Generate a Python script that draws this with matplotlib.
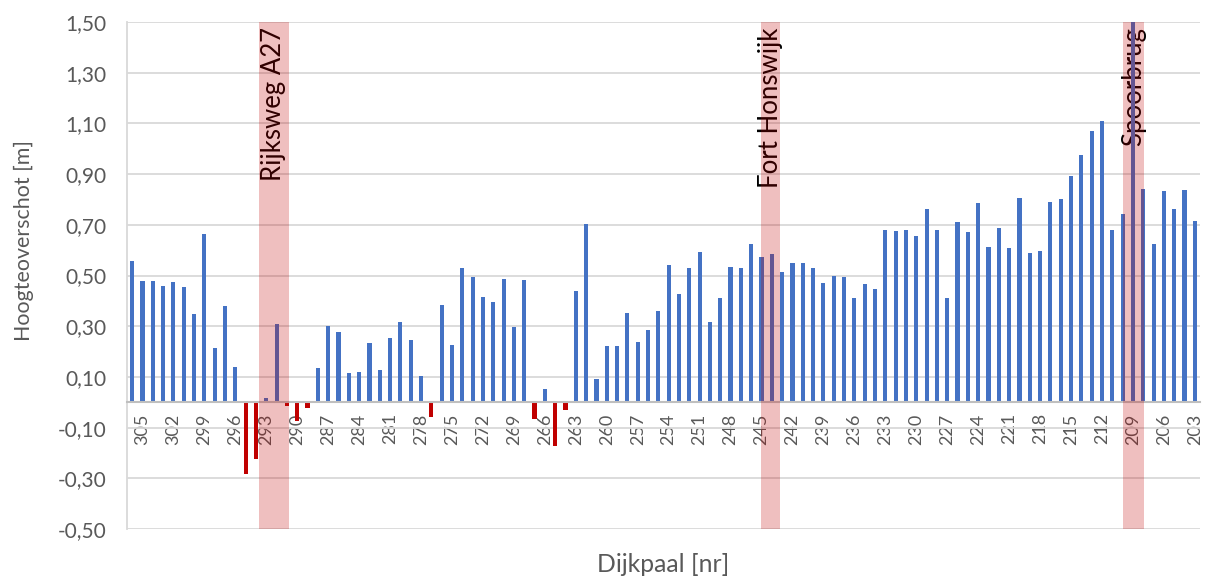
import matplotlib
matplotlib.use("Agg")
import matplotlib.pyplot as plt
import matplotlib.ticker as mticker
import numpy as np

# dijkpaal numbers, from 306 down to 203
DIJKPAAL = list(range(306, 202, -1))

HOOGTE = [
    0.559, 0.478, 0.478, 0.458, 0.474, 0.453, 0.347, 0.664, 0.214, 0.378, 0.139,
    -0.283, -0.224, 0.017, 0.307, -0.016, -0.072, -0.024,
    0.134, 0.301, 0.276, 0.114, 0.120, 0.232, 0.129, 0.255, 0.316, 0.246, 0.103,
    -0.057,
    0.382, 0.226, 0.529, 0.493, 0.417, 0.397, 0.488, 0.297, 0.483,
    -0.066, 0.053, -0.171, -0.030,
    0.437, 0.705, 0.093, 0.220, 0.220, 0.351, 0.239, 0.286, 0.361, 0.543, 0.426, 0.529, 0.593,
    0.316, 0.412, 0.533, 0.529, 0.625, 0.574, 0.584, 0.513, 0.549, 0.549, 0.529, 0.472,
    0.499, 0.493, 0.412, 0.467, 0.447, 0.680, 0.675, 0.680, 0.655, 0.761, 0.680, 0.412, 0.711,
    0.670, 0.787, 0.614, 0.689, 0.609, 0.807, 0.589, 0.595, 0.791, 0.801, 0.892, 0.974,
    1.070, 1.111, 0.680, 0.741, 1.600, 0.842, 0.625, 0.832, 0.761, 0.837, 0.716,
]

TICK_LABELS = list(range(305, 202, -3))

# marked structures along the dike: name, from dijkpaal, to dijkpaal
LANDMARK_NAMES = ["Rijksweg A27", "Fort Honswijk", "Spoorbrug"]
LANDMARK_FROM = [293.73, 245.09, 209.94]
LANDMARK_TO = [290.79, 243.25, 207.88]

BLUE = "#4472C4"
RED = "#C00000"
GREY = "#595959"

assert len(HOOGTE) == len(DIJKPAAL)

plt.rcParams["font.family"] = ["Lato", "DejaVu Sans"]

fig = plt.figure(figsize=(12.08, 5.79), dpi=100)
ax = fig.add_axes([127 / 1208, 1 - 529 / 579, 1073 / 1208, 507 / 579])

# category axis sits on the zero line (set before ticks, it resets them)
ax.spines["bottom"].set_position(("data", 0))

first = DIJKPAAL[0]
x = np.array([first - d for d in DIJKPAAL])
vals = np.array(HOOGTE)
colors = [BLUE if v >= 0 else RED for v in vals]
ax.bar(x, vals, width=0.4, color=colors, zorder=2)

for name, a, b in zip(LANDMARK_NAMES, LANDMARK_FROM, LANDMARK_TO):
    x0, x1 = first - a, first - b
    ax.axvspan(x0, x1, color=RED, alpha=0.25, lw=0, zorder=3)
    ax.text((x0 + x1) / 2, 1.48, name, rotation=90, ha="center", va="top",
            fontsize=18.5, color="black", zorder=1)

ax.set_xlim(-0.5, len(DIJKPAAL) - 0.5)
ax.set_ylim(-0.5, 1.5)
ax.set_yticks(np.arange(-0.5, 1.51, 0.2))
ax.yaxis.set_major_formatter(mticker.FuncFormatter(lambda v, _: f"{v:.2f}".replace(".", ",")))
ax.grid(axis="y", color="#D9D9D9", lw=1.3, zorder=0)
ax.set_axisbelow(True)

ax.set_xticks([first - d for d in TICK_LABELS])
ax.set_xticklabels([str(d) for d in TICK_LABELS])
ax.spines["bottom"].set_color("#BFBFBF")
ax.spines["bottom"].set_linewidth(1.5)
ax.spines["bottom"].set_zorder(2.5)
ax.spines["left"].set_color("#D9D9D9")
ax.spines["left"].set_linewidth(1.3)
ax.spines["top"].set_visible(False)
ax.spines["right"].set_visible(False)
ax.tick_params(axis="x", length=0, pad=8, labelsize=13, labelcolor=GREY, labelrotation=90)
ax.tick_params(axis="y", length=0, pad=15, labelsize=15, labelcolor=GREY)

ax.set_ylabel("Hoogteoverschot [m]", fontsize=15.4, color=GREY)
ax.yaxis.set_label_coords(-0.087, 0.57)
fig.text(ax.get_position().x0 + ax.get_position().width / 2, 1 - 564 / 579,
         "Dijkpaal [nr]", ha="center", va="center", fontsize=17.8, color=GREY)

fig.savefig("out.png", dpi=100)
